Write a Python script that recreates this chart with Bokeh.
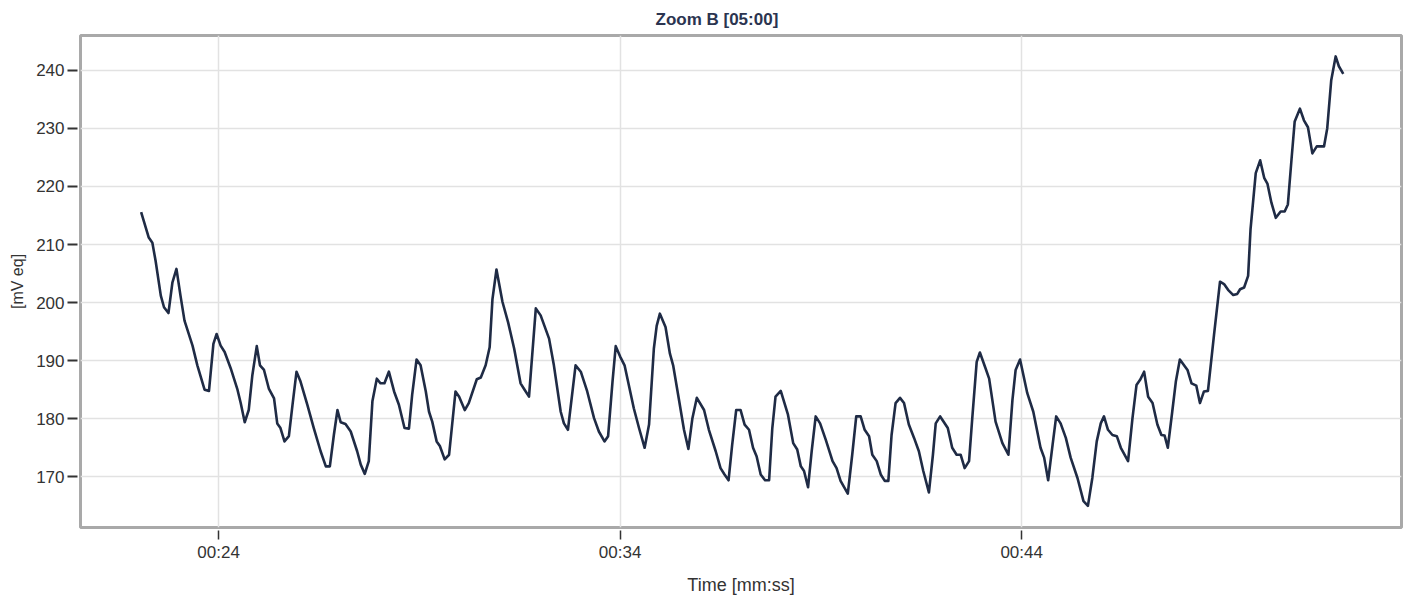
from bokeh.plotting import figure
from bokeh.models import FixedTicker, CustomJSTickFormatter, Range1d
from bokeh.embed import file_html
from bokeh.resources import INLINE

# ---- data: time [s] and value [mV eq] ----
time_s = [22.07, 22.26, 22.35, 22.43, 22.56, 22.64, 22.75, 22.85, 22.95, 23.05,
          23.15, 23.35, 23.47, 23.65, 23.76, 23.87, 23.95, 24.05, 24.15, 24.30,
          24.47, 24.55, 24.65, 24.75, 24.84, 24.95, 25.03, 25.13, 25.25, 25.38,
          25.46, 25.54, 25.64, 25.75, 25.84, 25.94, 26.04, 26.21, 26.37, 26.54,
          26.67, 26.77, 26.87, 26.96, 27.04, 27.16, 27.29, 27.45, 27.54, 27.64,
          27.74, 27.83, 27.94, 28.03, 28.13, 28.24, 28.37, 28.49, 28.63, 28.74,
          28.82, 28.93, 29.03, 29.16, 29.24, 29.32, 29.43, 29.51, 29.63, 29.74,
          29.90, 29.99, 30.13, 30.23, 30.43, 30.53, 30.65, 30.75, 30.82, 30.92,
          31.07, 31.21, 31.36, 31.52, 31.62, 31.73, 31.90, 32.02, 32.23, 32.35,
          32.52, 32.60, 32.70, 32.89, 33.02, 33.18, 33.35, 33.47, 33.61, 33.70,
          33.81, 33.89, 34.00, 34.11, 34.34, 34.47, 34.61, 34.72, 34.84, 34.91,
          34.99, 35.13, 35.24, 35.32, 35.46, 35.59, 35.70, 35.80, 35.91, 36.09,
          36.21, 36.38, 36.50, 36.60, 36.70, 36.79, 36.89, 37.00, 37.10, 37.21,
          37.31, 37.40, 37.50, 37.61, 37.71, 37.79, 37.87, 38.00, 38.18, 38.31,
          38.41, 38.50, 38.58, 38.68, 38.77, 38.87, 38.98, 39.12, 39.29, 39.39,
          39.49, 39.67, 39.78, 39.88, 39.99, 40.09, 40.20, 40.28, 40.39, 40.49,
          40.59, 40.68, 40.76, 40.86, 40.97, 41.07, 41.19, 41.32, 41.44, 41.55,
          41.69, 41.79, 41.86, 41.97, 42.16, 42.27, 42.38, 42.48, 42.58, 42.69,
          42.77, 42.88, 42.96, 43.10, 43.19, 43.35, 43.52, 43.67, 43.77, 43.85,
          43.96, 44.14, 44.29, 44.47, 44.56, 44.66, 44.77, 44.86, 44.97, 45.10,
          45.22, 45.39, 45.54, 45.65, 45.76, 45.87, 45.97, 46.05, 46.15, 46.26,
          46.37, 46.47, 46.65, 46.76, 46.86, 46.95, 47.05, 47.15, 47.26, 47.38,
          47.48, 47.56, 47.64, 47.75, 47.84, 47.94, 48.13, 48.23, 48.35, 48.44,
          48.54, 48.64, 48.79, 48.94, 49.04, 49.14, 49.27, 49.37, 49.44, 49.54,
          49.64, 49.70, 49.83, 49.94, 50.04, 50.12, 50.22, 50.33, 50.45, 50.55,
          50.63, 50.72, 50.80, 50.93, 51.03, 51.13, 51.24, 51.35, 51.45, 51.53,
          51.61, 51.71, 51.82, 51.90, 52.01]

mv_eq = [215.6, 211.2, 210.3, 207.2, 201.2, 199.2, 198.2, 203.5, 205.8, 201.2,
         196.9, 192.6, 189.2, 185.0, 184.8, 192.9, 194.6, 192.6, 191.5, 188.7,
         185.0, 182.7, 179.4, 181.5, 187.5, 192.5, 189.2, 188.4, 185.2, 183.5,
         179.2, 178.4, 176.1, 177.0, 182.4, 188.1, 186.4, 182.4, 178.4, 174.4,
         171.8, 171.8, 177.2, 181.5, 179.4, 179.1, 177.8, 174.4, 172.1, 170.5,
         172.7, 183.0, 186.9, 186.1, 186.1, 188.1, 184.7, 182.4, 178.4, 178.3,
         184.1, 190.2, 189.2, 184.7, 181.2, 179.5, 176.1, 175.3, 173.0, 173.8,
         184.7, 183.8, 181.5, 182.7, 186.8, 187.1, 189.2, 192.3, 200.6, 205.7,
         200.1, 196.6, 192.1, 186.1, 185.0, 183.8, 199.0, 197.8, 193.8, 189.2,
         181.2, 179.2, 178.1, 189.2, 188.1, 184.7, 180.1, 177.8, 176.1, 177.0,
         186.4, 192.5, 190.7, 189.2, 181.8, 178.4, 175.0, 179.0, 192.1, 196.0,
         198.1, 195.8, 191.2, 189.2, 183.5, 178.1, 174.8, 180.1, 183.6, 181.5,
         178.1, 174.4, 171.5, 170.4, 169.4, 175.5, 181.5, 181.5, 179.0, 178.1,
         175.0, 173.5, 170.4, 169.4, 169.4, 178.4, 183.8, 184.8, 180.7, 175.8,
         174.7, 171.8, 171.0, 168.2, 174.4, 180.4, 179.2, 176.4, 172.7, 171.5,
         169.3, 167.1, 173.8, 180.4, 180.4, 178.1, 177.0, 173.8, 172.7, 170.4,
         169.3, 169.3, 177.2, 182.7, 183.6, 182.7, 179.0, 176.7, 174.4, 171.0,
         167.3, 173.8, 179.2, 180.4, 178.4, 175.0, 173.8, 173.8, 171.5, 172.7,
         180.1, 189.8, 191.4, 188.7, 186.9, 179.5, 175.8, 173.8, 183.2, 188.4,
         190.2, 184.4, 181.2, 175.0, 173.3, 169.4, 175.5, 180.4, 179.2, 176.7,
         173.3, 169.8, 165.8, 165.0, 169.8, 176.1, 179.2, 180.4, 178.1, 177.2,
         177.0, 175.0, 172.7, 180.1, 185.8, 186.7, 188.1, 183.8, 182.7, 179.0,
         177.2, 177.1, 175.0, 181.2, 186.4, 190.2, 188.4, 186.1, 185.7, 182.7,
         184.7, 184.8, 194.4, 203.6, 203.2, 202.2, 201.3, 201.5, 202.3, 202.6,
         204.6, 212.6, 222.3, 224.5, 221.5, 220.5, 217.2, 214.6, 215.7, 215.7,
         216.9, 224.6, 231.2, 233.4, 231.4, 230.2, 225.7, 226.9, 226.9, 226.9,
         230.0, 238.3, 242.4, 240.7, 239.4]

x_ticks = [24, 34, 44]
y_ticks = [170, 180, 190, 200, 210, 220, 230, 240]
title_text = "Zoom B [05:00]"
x_label = "Time [mm:ss]"
y_label = "[mV eq]"

FONT = "Liberation Sans"

p = figure(width=1406, height=597, output_backend="svg", toolbar_location=None,
           x_range=Range1d(20.56, 53.46), y_range=Range1d(161.27, 246.0),
           min_border_left=80, min_border_right=5, min_border_top=35,
           min_border_bottom=67, background_fill_color="white",
           border_fill_color="white")

p.title.text = title_text
p.title.align = "left"
p.title.offset = 575
p.title.text_font = FONT
p.title.text_font_size = "17px"
p.title.text_font_style = "bold"
p.title.text_color = "#2b3450"
p.title.standoff = 14

p.outline_line_color = "#a9a9a9"
p.outline_line_width = 3

p.line(time_s, mv_eq, line_color="#1f2b45", line_width=2.6, line_join="round")

for ax in (p.xaxis[0], p.yaxis[0]):
    ax.axis_line_color = None
    ax.major_tick_line_color = "#333333"
    ax.major_tick_line_width = 2
    ax.minor_tick_line_color = None
    ax.major_label_text_font = FONT
    ax.major_label_text_font_size = "17px"
    ax.major_label_text_color = "#333333"
    ax.axis_label_text_font = FONT
    ax.axis_label_text_font_style = "normal"
    ax.axis_label_text_color = "#333333"

p.xaxis.ticker = FixedTicker(ticks=x_ticks)
p.yaxis.ticker = FixedTicker(ticks=y_ticks)
p.xaxis.formatter = CustomJSTickFormatter(code="""
    const m = Math.floor(tick / 60), s = Math.round(tick % 60);
    return String(m).padStart(2, '0') + ':' + String(s).padStart(2, '0');
""")
p.xaxis.major_tick_in = -3
p.xaxis.major_tick_out = 12
p.xaxis.major_tick_line_width = 1.5
p.xaxis.major_label_standoff = 3
p.xaxis.axis_label = x_label
p.xaxis.axis_label_text_font_size = "18px"
p.xaxis.axis_label_standoff = 10

p.yaxis.major_tick_in = -3
p.yaxis.major_tick_out = 13
p.yaxis.major_label_standoff = 3
p.yaxis.axis_label = y_label
p.yaxis.axis_label_text_font_size = "16px"
p.yaxis.axis_label_standoff = 7

p.grid.grid_line_color = "#e2e2e2"
p.grid.grid_line_width = 1.5

open("out.html", "w").write(file_html(p, INLINE))
